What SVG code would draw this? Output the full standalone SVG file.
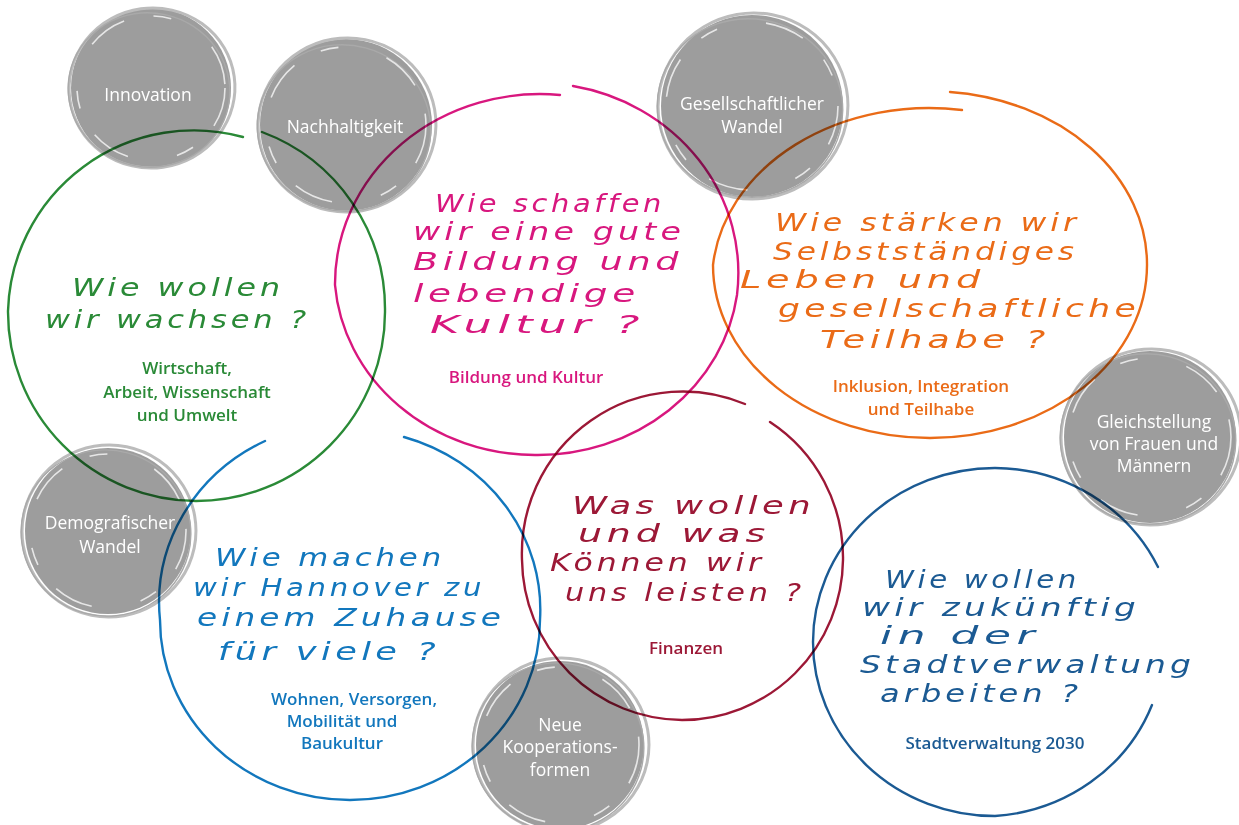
<svg xmlns="http://www.w3.org/2000/svg" width="1239" height="825" viewBox="0 0 1239 825">
<style>
.bg{fill:#ffffff}
.gfill{fill:#9d9d9d}
.ring1{fill:none;stroke:#bcbcbc;stroke-width:3}
.ring2{fill:none;stroke:#a9a9a9;stroke-width:1.4}
.ring3{fill:none;stroke:#ffffff;stroke-width:1.6;stroke-opacity:0.75;stroke-dasharray:40 30 18 50}
.gt{font-family:"Open Sans","Liberation Sans",sans-serif;font-weight:400;font-size:17.5px;fill:#ffffff;text-anchor:middle}
.loop{fill:none;stroke-width:2.4;stroke-linecap:round;mix-blend-mode:multiply}
.hw{font-family:"DejaVu Sans","Liberation Sans",sans-serif;font-weight:200;font-style:oblique;font-size:24px;letter-spacing:3px}
.lbl{font-family:"Open Sans","Liberation Sans",sans-serif;font-weight:600;font-size:17px;text-anchor:middle}
.green{stroke:#2a8a37;fill:#2a8a37}
.mag{stroke:#d8177e;fill:#d8177e}
.ora{stroke:#ea6b17;fill:#ea6b17}
.red{stroke:#9c1836;fill:#9c1836}
.blue{stroke:#1277bd;fill:#1277bd}
.navy{stroke:#1b5a93;fill:#1b5a93}
.hw,.lbl{stroke:none}
.loop.green,.loop.mag,.loop.ora,.loop.red,.loop.blue,.loop.navy{fill:none}
</style>
<rect class="bg" x="0" y="0" width="1239" height="825"/>

<g id="node-innovation">
<circle class="gfill" cx="151" cy="88" r="80"/>
<ellipse class="ring1" cx="152" cy="88" rx="83" ry="80" transform="rotate(-8 152 88)"/>
<ellipse class="ring2" cx="149" cy="90" rx="81" ry="77" transform="rotate(12 149 90)"/>
<ellipse class="ring3" cx="151" cy="88" rx="74" ry="72"/>
<text class="gt" x="148" y="101">Innovation</text>
</g>

<g id="node-nachhaltigkeit">
<circle class="gfill" cx="346" cy="125" r="86"/>
<ellipse class="ring1" cx="347" cy="125" rx="89" ry="87" transform="rotate(-10 347 125)"/>
<ellipse class="ring2" cx="344" cy="128" rx="87" ry="83" transform="rotate(15 344 128)"/>
<ellipse class="ring3" cx="346" cy="125" rx="80" ry="78"/>
<text class="gt" x="345" y="133">Nachhaltigkeit</text>
</g>

<g id="node-gesellschaftlicher-wandel">
<circle class="gfill" cx="752" cy="106" r="91"/>
<ellipse class="ring1" cx="753" cy="106" rx="95" ry="93" transform="rotate(-10 753 106)"/>
<ellipse class="ring2" cx="750" cy="108" rx="93" ry="89" transform="rotate(15 750 108)"/>
<ellipse class="ring3" cx="752" cy="106" rx="86" ry="84"/>
<text class="gt" x="752" y="110">Gesellschaftlicher</text>
<text class="gt" x="752" y="133">Wandel</text>
</g>

<g id="node-gleichstellung">
<circle class="gfill" cx="1150" cy="437" r="86"/>
<ellipse class="ring1" cx="1151" cy="437" rx="90" ry="88" transform="rotate(-10 1151 437)"/>
<ellipse class="ring2" cx="1148" cy="439" rx="88" ry="85" transform="rotate(15 1148 439)"/>
<ellipse class="ring3" cx="1150" cy="437" rx="81" ry="79"/>
<text class="gt" x="1154" y="428">Gleichstellung</text>
<text class="gt" x="1154" y="450">von Frauen und</text>
<text class="gt" x="1154" y="472">Männern</text>
</g>

<g id="node-demografischer-wandel">
<circle class="gfill" cx="108" cy="531" r="83"/>
<ellipse class="ring1" cx="109" cy="531" rx="87" ry="86" transform="rotate(-10 109 531)"/>
<ellipse class="ring2" cx="106" cy="533" rx="85" ry="83" transform="rotate(15 106 533)"/>
<ellipse class="ring3" cx="108" cy="531" rx="78" ry="77"/>
<text class="gt" x="110" y="529">Demografischer</text>
<text class="gt" x="110" y="553">Wandel</text>
</g>

<g id="node-neue-kooperationsformen">
<circle class="gfill" cx="560" cy="745" r="84"/>
<ellipse class="ring1" cx="561" cy="745" rx="88" ry="87" transform="rotate(-10 561 745)"/>
<ellipse class="ring2" cx="558" cy="747" rx="86" ry="84" transform="rotate(15 558 747)"/>
<ellipse class="ring3" cx="560" cy="745" rx="79" ry="78"/>
<text class="gt" x="560" y="731">Neue</text>
<text class="gt" x="560" y="753">Kooperations-</text>
<text class="gt" x="560" y="776">formen</text>
</g>

<g id="connectors"></g>

<g id="node-wirtschaft">
<path class="loop green" d="M243,137 A186 186 0 0 0 8,311 A189 189 0 0 0 196,501 A189 189 0 0 0 385,311 A189 189 0 0 0 262,132"/>
<text class="hw green" x="72" y="296" textLength="212" lengthAdjust="spacingAndGlyphs">Wie wollen</text>
<text class="hw green" x="45" y="328" textLength="265" lengthAdjust="spacingAndGlyphs">wir wachsen ?</text>
<text class="lbl green" x="187" y="374">Wirtschaft,</text>
<text class="lbl green" x="187" y="398">Arbeit, Wissenschaft</text>
<text class="lbl green" x="187" y="421">und Umwelt</text>
</g>

<g id="node-bildung">
<path class="loop mag" d="M560,95 A205 190 0 0 0 335,285 A201 185 0 0 0 535,455 A201 185 0 0 0 737,295 A201 190 0 0 0 573,86"/>
<text class="hw mag" x="435" y="212" textLength="230" lengthAdjust="spacingAndGlyphs">Wie schaffen</text>
<text class="hw mag" x="413" y="240" textLength="272" lengthAdjust="spacingAndGlyphs">wir eine gute</text>
<text class="hw mag" x="413" y="270" textLength="270" lengthAdjust="spacingAndGlyphs">Bildung und</text>
<text class="hw mag" x="413" y="302" textLength="227" lengthAdjust="spacingAndGlyphs">lebendige</text>
<text class="hw mag" x="430" y="333" textLength="215" lengthAdjust="spacingAndGlyphs">Kultur ?</text>
<text class="lbl mag" x="526" y="383">Bildung und Kultur</text>
</g>

<g id="node-inklusion">
<path class="loop ora" d="M950,92 A217 173 0 0 1 1147,265 A217 173 0 0 1 930,438 A217 173 0 0 1 713,265 A217 173 0 0 1 962,110"/>
<text class="hw ora" x="775" y="231" textLength="305" lengthAdjust="spacingAndGlyphs">Wie stärken wir</text>
<text class="hw ora" x="773" y="260" textLength="305" lengthAdjust="spacingAndGlyphs">Selbstständiges</text>
<text class="hw ora" x="740" y="288" textLength="245" lengthAdjust="spacingAndGlyphs">Leben und</text>
<text class="hw ora" x="778" y="317" textLength="362" lengthAdjust="spacingAndGlyphs">gesellschaftliche</text>
<text class="hw ora" x="820" y="348" textLength="230" lengthAdjust="spacingAndGlyphs">Teilhabe ?</text>
<text class="lbl ora" x="921" y="392">Inklusion, Integration</text>
<text class="lbl ora" x="921" y="415">und Teilhabe</text>
</g>

<g id="node-finanzen">
<path class="loop red" d="M770,422 A161 162 0 0 1 843,560 A161 162 0 0 1 682,720 A161 162 0 0 1 522,560 A161 162 0 0 1 745,404"/>
<text class="hw red" x="572" y="514" textLength="243" lengthAdjust="spacingAndGlyphs">Was wollen</text>
<text class="hw red" x="578" y="542" textLength="192" lengthAdjust="spacingAndGlyphs">und was</text>
<text class="hw red" x="550" y="571" textLength="215" lengthAdjust="spacingAndGlyphs">Können wir</text>
<text class="hw red" x="565" y="601" textLength="240" lengthAdjust="spacingAndGlyphs">uns leisten ?</text>
<text class="lbl red" x="686" y="654">Finanzen</text>
</g>

<g id="node-wohnen">
<path class="loop blue" d="M265,441 A190 180 0 0 0 160,620 A190 180 0 0 0 350,800 A190 180 0 0 0 540,620 A190 180 0 0 0 404,437"/>
<text class="hw blue" x="215" y="566" textLength="230" lengthAdjust="spacingAndGlyphs">Wie machen</text>
<text class="hw blue" x="193" y="596" textLength="292" lengthAdjust="spacingAndGlyphs">wir Hannover zu</text>
<text class="hw blue" x="197" y="626" textLength="308" lengthAdjust="spacingAndGlyphs">einem Zuhause</text>
<text class="hw blue" x="218" y="660" textLength="222" lengthAdjust="spacingAndGlyphs">für viele ?</text>
<text class="lbl blue" x="354" y="705">Wohnen, Versorgen,</text>
<text class="lbl blue" x="342" y="727">Mobilität und</text>
<text class="lbl blue" x="342" y="749">Baukultur</text>
</g>

<g id="node-stadtverwaltung">
<path class="loop navy" d="M1158,567 A182 174 0 0 0 995,468 A182 174 0 0 0 813,642 A182 174 0 0 0 995,816 A182 174 0 0 0 1152,705"/>
<text class="hw navy" x="885" y="588" textLength="195" lengthAdjust="spacingAndGlyphs">Wie wollen</text>
<text class="hw navy" x="862" y="616" textLength="278" lengthAdjust="spacingAndGlyphs">wir zukünftig</text>
<text class="hw navy" x="880" y="644" textLength="160" lengthAdjust="spacingAndGlyphs">in der</text>
<text class="hw navy" x="860" y="673" textLength="335" lengthAdjust="spacingAndGlyphs">Stadtverwaltung</text>
<text class="hw navy" x="880" y="702" textLength="202" lengthAdjust="spacingAndGlyphs">arbeiten ?</text>
<text class="lbl navy" x="995" y="749">Stadtverwaltung 2030</text>
</g>
</svg>
